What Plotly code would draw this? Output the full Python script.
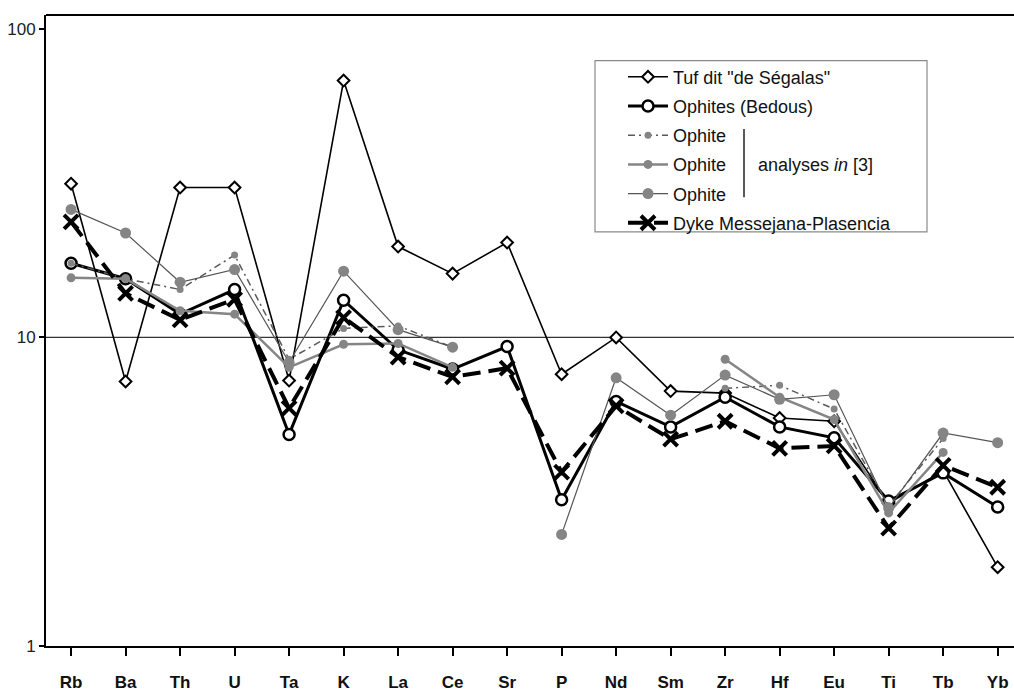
import plotly.graph_objects as go

# Multi-element spider diagram (normalised concentrations, log scale)
elements = ["Rb", "Ba", "Th", "U", "Ta", "K", "La", "Ce", "Sr", "P",
            "Nd", "Sm", "Zr", "Hf", "Eu", "Ti", "Tb", "Yb"]

tuf_segalas = [31.5, 7.2, 30.6, 30.6, 7.25, 68.0, 19.7, 16.1, 20.3, 7.6,
               10.0, 6.7, 6.6, 5.48, 5.35, 2.9, 3.7, 1.8]
ophites_bedous = [17.4, 15.5, 11.9, 14.3, 4.85, 13.2, 9.12, 7.9, 9.34, 2.98,
                  6.2, 5.13, 6.4, 5.13, 4.73, 2.95, 3.64, 2.82]
ophite_a = [17.4, 15.5, 14.3, 18.5, 8.5, 10.7, 10.9, 9.3, None, None,
            None, None, 6.84, 7.0, 5.86, 2.85, 4.7, None]
ophite_b = [15.6, 15.5, 12.2, 11.9, 8.0, 9.5, 9.56, 8.0, None, None,
            None, None, 8.5, 6.4, 5.42, 2.7, 4.24, None]
ophite_c = [26.0, 21.8, 15.1, 16.6, 8.3, 16.4, 10.6, 9.3, None, 2.3,
            7.4, 5.6, 7.55, 6.3, 6.52, 2.8, 4.9, 4.56]
dyke_messejana = [23.7, 13.9, 11.4, 13.3, 5.9, 11.6, 8.63, 7.45, 7.95, 3.66,
                  6.0, 4.68, 5.35, 4.37, 4.45, 2.41, 3.85, 3.27]

y_ticks = [1, 10, 100]
y_tick_labels = ["1", "10", "100"]

W, H = 1014, 692
ML, MR, MT, MB = 46, 0, 15, 40
PW, PH = W - ML - MR, H - MT - MB


def px_x(p):
    return (p - ML) / PW


def px_y(p):
    return (H - MB - p) / PH


x = list(range(len(elements)))
FONT = "Liberation Sans, Arial, sans-serif"
GRAY = "#858585"

fig = go.Figure()

fig.add_trace(go.Scatter(
    x=x, y=tuf_segalas, name='Tuf dit "de Ségalas"', legendgroup="g1",
    mode="lines+markers",
    line=dict(color="black", width=1.6),
    marker=dict(symbol="diamond", size=9, color="white",
                line=dict(color="black", width=2)),
))
fig.add_trace(go.Scatter(
    x=x, y=ophites_bedous, name="Ophites (Bedous)", legendgroup="g2",
    mode="lines+markers",
    line=dict(color="black", width=3),
    marker=dict(symbol="circle", size=11, color="white",
                line=dict(color="black", width=2.5)),
))
fig.add_trace(go.Scatter(
    x=x, y=ophite_a, name="Ophite", legendgroup="g3",
    mode="lines+markers", connectgaps=False,
    line=dict(color="#5a5a5a", width=1.5, dash="7px,4px,2px,4px"),
    marker=dict(symbol="circle", size=7, color=GRAY),
))
fig.add_trace(go.Scatter(
    x=x, y=ophite_b, name="Ophite", legendgroup="g4",
    mode="lines+markers", connectgaps=False,
    line=dict(color=GRAY, width=2.5),
    marker=dict(symbol="circle", size=9, color=GRAY),
))
fig.add_trace(go.Scatter(
    x=x, y=ophite_c, name="Ophite", legendgroup="g5",
    mode="lines+markers", connectgaps=False,
    line=dict(color="#555555", width=1.2),
    marker=dict(symbol="circle", size=11, color=GRAY),
))
fig.add_trace(go.Scatter(
    x=x, y=dyke_messejana, name="Dyke Messejana-Plasencia", legendgroup="g6",
    mode="lines+markers",
    line=dict(color="black", width=4, dash="18px,8px"),
    marker=dict(symbol="x-thin", size=14, color="black",
                line=dict(color="black", width=4)),
))

# reference line at 10
fig.add_shape(type="line", xref="paper", yref="y", x0=0, x1=1, y0=10, y1=10,
              line=dict(color="#333333", width=1.2), layer="below")
# top frame line
fig.add_shape(type="line", xref="paper", yref="paper", x0=0, x1=1, y0=1, y1=1,
              line=dict(color="black", width=2))
# legend frame
fig.add_shape(type="rect", xref="paper", yref="paper",
              x0=px_x(595), x1=px_x(927), y0=px_y(234), y1=px_y(61),
              line=dict(color="#8a8a8a", width=1.2), fillcolor="white",
              layer="below")
# bracket grouping the three Ophite analyses
fig.add_shape(type="line", xref="paper", yref="paper",
              x0=px_x(744), x1=px_x(744), y0=px_y(199), y1=px_y(130),
              line=dict(color="#222222", width=1.5))
fig.add_annotation(xref="paper", yref="paper", x=px_x(756), y=px_y(166),
                   xanchor="left", yanchor="middle", showarrow=False,
                   text="analyses <i>in</i> [3]",
                   font=dict(family=FONT, size=18, color="#111111"))

fig.update_layout(
    width=W, height=H,
    margin=dict(l=ML, r=MR, t=MT, b=MB, pad=0),
    paper_bgcolor="white", plot_bgcolor="white",
    font=dict(family=FONT, size=17, color="#111111"),
    showlegend=True,
    legend=dict(
        x=px_x(623), y=px_y(59), xanchor="left", yanchor="top",
        bgcolor="rgba(0,0,0,0)", borderwidth=0,
        font=dict(family=FONT, size=18, color="#111111"),
        tracegroupgap=2.8, itemwidth=40,
    ),
    xaxis=dict(
        range=[-0.46, 17.3], tickmode="array", tickvals=x,
        ticktext=[f"<b>{e}</b>" for e in elements],
        ticks="outside", ticklen=8, tickwidth=2, tickcolor="black",
        ticklabelstandoff=12,
        showline=True, linewidth=2, linecolor="black",
        showgrid=False, zeroline=False,
        tickfont=dict(family=FONT, size=17, color="#111111"),
    ),
    yaxis=dict(
        type="log", range=[0.0, 2.045], tickmode="array",
        tickvals=y_ticks, ticktext=y_tick_labels,
        ticks="outside", ticklen=5, tickwidth=1.5, tickcolor="black",
        showline=True, linewidth=2, linecolor="black",
        showgrid=False, zeroline=False,
        tickfont=dict(family=FONT, size=17, color="#222222"),
    ),
)

fig.write_html("out.html")
